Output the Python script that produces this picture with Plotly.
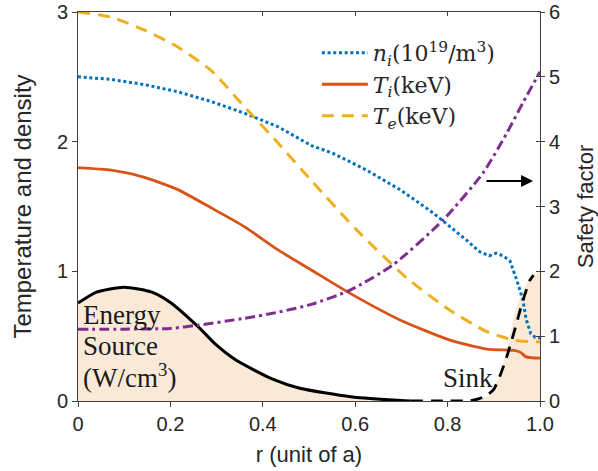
import plotly.graph_objects as go

# ---------------- data ----------------
r_ni = [0, 0.072, 0.144, 0.216, 0.288, 0.36, 0.433, 0.505, 0.552, 0.625, 0.697,
        0.769, 0.841, 0.87, 0.89, 0.905, 0.92, 0.935, 0.95, 0.963, 0.97, 0.98, 0.99, 1.0]
ni = [2.50, 2.48, 2.44, 2.385, 2.31, 2.22, 2.115, 1.97, 1.91, 1.78, 1.63,
      1.45, 1.24, 1.15, 1.12, 1.14, 1.12, 1.08, 0.93, 0.78, 0.63, 0.52, 0.49, 0.485]

r_ti = [0, 0.072, 0.144, 0.216, 0.288, 0.36, 0.433, 0.505, 0.589, 0.697, 0.805,
        0.885, 0.943, 0.958, 0.97, 1.0]
ti = [1.80, 1.78, 1.725, 1.63, 1.49, 1.345, 1.165, 1.01, 0.83, 0.625, 0.47,
      0.40, 0.39, 0.375, 0.34, 0.33]

r_te = [0, 0.072, 0.144, 0.216, 0.288, 0.36, 0.433, 0.505, 0.603, 0.711, 0.805,
        0.885, 0.943, 0.985, 1.0]
te = [3.0, 2.96, 2.86, 2.73, 2.55, 2.27, 1.99, 1.70, 1.32, 0.95, 0.70,
      0.535, 0.47, 0.457, 0.455]

r_q = [0, 0.1, 0.2, 0.26, 0.36, 0.433, 0.505, 0.589, 0.682, 0.79, 0.877,
       0.928, 0.963, 1.0]
q = [1.105, 1.108, 1.12, 1.17, 1.275, 1.37, 1.49, 1.71, 2.10, 2.79, 3.52,
     4.13, 4.60, 5.08]

r_src = [0, 0.04, 0.1, 0.16, 0.2, 0.26, 0.3, 0.34, 0.42, 0.48, 0.59, 0.7, 0.72]
src = [0.755, 0.84, 0.878, 0.84, 0.76, 0.573, 0.43, 0.32, 0.17, 0.098, 0.033, 0.003, 0.0]

r_sink = [0.72, 0.8, 0.85, 0.87, 0.885, 0.9, 0.914, 0.928, 0.943, 0.957, 0.968, 0.978, 0.986]
sink = [0.0, 0.0, 0.003, 0.02, 0.045, 0.09, 0.2, 0.34, 0.52, 0.70, 0.83, 0.93, 0.97]

r_sink_fill = [0.86, 0.89, 0.913, 0.93, 0.943, 0.957, 0.978, 1.0]
sink_fill = [0.0, 0.04, 0.19, 0.42, 0.65, 0.80, 0.96, 1.0]

x_ticks = [0, 0.2, 0.4, 0.6, 0.8, 1.0]
x_ticktext = ["0", "0.2", "0.4", "0.6", "0.8", "1.0"]
y_ticks = [0, 1, 2, 3]
y2_ticks = [0, 1, 2, 3, 4, 5, 6]

source_label = ["Energy", "Source", "(W/cm<sup>3</sup>)"]
source_label_y = [0.53, 0.29, 0.05]

# ---------------- styles ----------------
BLUE = "#0072BD"
RED = "#D95319"
YELLOW = "#EDB120"
PURPLE = "#7E2F8E"
FILL = "rgb(250,233,215)"
AX = "#404040"
TXT = "#262626"
SANS = "Liberation Sans, Arial, sans-serif"
SERIF = "Liberation Serif, Times New Roman, serif"
LEGSERIF = "DejaVu Serif, serif"

fig = go.Figure()

# shaded source / sink area
fig.add_trace(go.Scatter(x=r_src + r_sink_fill, y=src + sink_fill, mode="lines",
                         line=dict(width=0, color=FILL), fill="tozeroy",
                         fillcolor=FILL, showlegend=False, hoverinfo="skip"))

fig.add_trace(go.Scatter(x=r_ni, y=ni, mode="lines", name="<i>n</i><sub><i>i</i></sub>(10<sup>19</sup>/m<sup>3</sup>)",
                         line=dict(color=BLUE, width=3, dash="3px,2.7px")))
fig.add_trace(go.Scatter(x=r_ti, y=ti, mode="lines", name="<i>T</i><sub><i>i</i></sub>(keV)",
                         line=dict(color=RED, width=2.8, shape="spline", smoothing=0.6)))
fig.add_trace(go.Scatter(x=r_te, y=te, mode="lines", name="<i>T</i><sub><i>e</i></sub>(keV)",
                         line=dict(color=YELLOW, width=3, dash="12px,8px", shape="spline", smoothing=0.6)))

fig.add_trace(go.Scatter(x=r_src, y=src, mode="lines", showlegend=False,
                         line=dict(color="black", width=3, shape="spline", smoothing=0.6)))
fig.add_trace(go.Scatter(x=r_sink, y=sink, mode="lines", showlegend=False,
                         line=dict(color="black", width=2.8, dash="12px,8px", shape="spline", smoothing=0.5)))

fig.add_trace(go.Scatter(x=r_q, y=q, mode="lines", showlegend=False, yaxis="y2",
                         line=dict(color=PURPLE, width=3, dash="10px,4px,3px,4px",
                                   shape="spline", smoothing=0.6)))

# helper empty traces so the extra frame axes exist
fig.add_trace(go.Scatter(x=[], y=[], xaxis="x2", yaxis="y", showlegend=False))
fig.add_trace(go.Scatter(x=[], y=[], xaxis="x", yaxis="y3", showlegend=False))

axis_common = dict(showgrid=False, zeroline=False, showline=True, linecolor=AX, linewidth=1,
                   automargin=False, ticklabeloverflow="allow",
                   tickcolor=AX, tickwidth=1, tickfont=dict(family=SANS, size=20, color=TXT))

fig.update_layout(
    width=598, height=471,
    margin=dict(l=78, r=58, t=12, b=70),
    paper_bgcolor="white", plot_bgcolor="white",
    xaxis=dict(range=[0, 1], tickvals=x_ticks, ticktext=x_ticktext, ticks="outside", ticklen=5,
               title=dict(text="r (unit of a)", font=dict(family=SANS, size=22, color=TXT), standoff=12),
               **axis_common),
    xaxis2=dict(range=[0, 1], overlaying="x", side="top", tickvals=x_ticks, ticks="inside",
                ticklen=4, showticklabels=False, showgrid=False, zeroline=False, showline=True,
                automargin=False, linecolor=AX, linewidth=1, tickcolor=AX),
    yaxis=dict(range=[0, 3], tickvals=y_ticks, ticks="outside", ticklen=5,
               title=dict(text="Temperature and density", font=dict(family=SANS, size=24, color=TXT), standoff=18),
               **axis_common),
    yaxis2=dict(range=[0, 6], tickvals=y2_ticks, ticks="outside", ticklen=4, overlaying="y", side="right",
                title=dict(text="Safety factor", font=dict(family=SANS, size=22, color=TXT), standoff=20),
                **axis_common),
    yaxis3=dict(range=[0, 6], tickvals=y2_ticks, ticks="inside", ticklen=4, overlaying="y", side="right",
                automargin=False,
                showticklabels=False, showgrid=False, zeroline=False, showline=False, tickcolor=AX),
    legend=dict(x=0.517, y=0.949, xanchor="left", yanchor="top", bgcolor="rgba(0,0,0,0)",
                font=dict(family=LEGSERIF, size=22, color=TXT), itemwidth=46, tracegroupgap=0),
    showlegend=True,
)

fig.add_annotation(x=0.985, y=1.697, ax=0.881, ay=1.697, xref="x", yref="y", axref="x", ayref="y",
                   showarrow=True, arrowhead=2, arrowsize=1.2, arrowwidth=2, arrowcolor="black", text="")

for txt, yy in zip(source_label, source_label_y):
    fig.add_annotation(x=0.006, y=yy, xref="x", yref="y", xanchor="left", yanchor="bottom", align="left",
                       text=txt, showarrow=False, font=dict(family=SERIF, size=27, color="#1a1a1a"))
fig.add_annotation(x=0.844, y=0.05, xref="x", yref="y", xanchor="center", yanchor="bottom",
                   text="Sink", showarrow=False, font=dict(family=SERIF, size=27, color="#1a1a1a"))

# remove the browser's default 8px body margin so the figure sits at the page origin
fig.write_html("out.html", config={"displayModeBar": False},
               post_script="document.body.style.margin='0px';")
